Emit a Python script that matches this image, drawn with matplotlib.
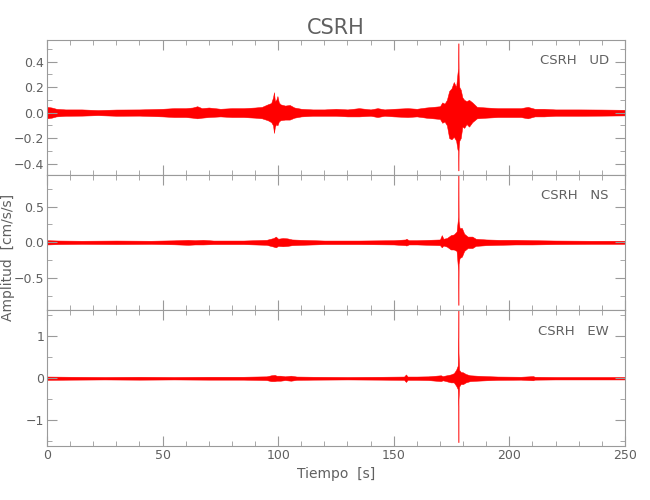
import matplotlib
matplotlib.use("Agg")
import matplotlib.pyplot as plt
from matplotlib import font_manager
from matplotlib.ticker import MultipleLocator

# fuente estrecha si existe
names = {f.name for f in font_manager.fontManager.ttflist}
fam = "Liberation Sans Narrow" if "Liberation Sans Narrow" in names else "DejaVu Sans"
plt.rcParams["font.family"] = [fam, "DejaVu Sans"]

station = "CSRH"
components = ["UD", "NS", "EW"]

t_ud = [0, 2, 4, 8, 15, 22, 30, 40, 50, 55, 60, 63, 65, 67, 70, 75, 80, 85, 90, 93,
        95.5, 97, 97.8, 98.2, 98.6, 99.2, 99.7, 100.3, 101, 103, 105, 107, 110, 115, 120,
        125, 130, 135, 140, 143, 146, 150, 156, 160, 164, 167, 170, 171, 172, 173,
        174, 175, 176, 177, 177.6, 177.9, 178.0, 178.1, 178.4, 179, 179.7, 180.5, 181.5,
        182.6, 184, 186, 190, 195, 200, 205, 208, 211, 215, 220, 230, 240, 250]
up_ud = [0.045, 0.04, 0.03, 0.025, 0.025, 0.02, 0.024, 0.025, 0.03, 0.035, 0.035, 0.04, 0.05, 0.035, 0.04, 0.03, 0.035, 0.035, 0.04, 0.045,
         0.065, 0.075, 0.12, 0.16, 0.09, 0.1, 0.13, 0.08, 0.065, 0.055, 0.06, 0.04, 0.03, 0.025, 0.025,
         0.03, 0.025, 0.035, 0.025, 0.035, 0.025, 0.03, 0.035, 0.03, 0.04, 0.045, 0.05, 0.08, 0.07, 0.1,
         0.17, 0.19, 0.24, 0.2, 0.31, 0.35, 0.545, 0.3, 0.2, 0.18, 0.12, 0.1, 0.09,
         0.1, 0.08, 0.045, 0.04, 0.035, 0.035, 0.035, 0.045, 0.03, 0.03, 0.025, 0.025, 0.024, 0.022]
lo_ud = [-0.045, -0.04, -0.03, -0.025, -0.024, -0.02, -0.025, -0.024, -0.03, -0.035, -0.035, -0.04, -0.045, -0.04, -0.035, -0.03, -0.035, -0.035, -0.04, -0.045,
         -0.06, -0.075, -0.1, -0.16, -0.11, -0.09, -0.1, -0.07, -0.06, -0.055, -0.055, -0.04, -0.03, -0.025, -0.025,
         -0.025, -0.03, -0.03, -0.025, -0.035, -0.025, -0.03, -0.035, -0.03, -0.04, -0.045, -0.05, -0.08, -0.07, -0.1,
         -0.2, -0.21, -0.19, -0.22, -0.29, -0.3, -0.455, -0.28, -0.22, -0.2, -0.11, -0.12, -0.09,
         -0.11, -0.075, -0.045, -0.04, -0.035, -0.035, -0.035, -0.045, -0.03, -0.03, -0.025, -0.025, -0.024, -0.022]

t_ns = [0, 5, 15, 30, 45, 55, 61, 64, 67.5, 72, 85, 95, 98, 99, 100, 102, 104, 106, 110, 120,
        135, 150, 155, 155.5, 156.5, 160, 165, 170, 170.8, 171.5, 173, 174.7, 176, 177.2, 177.9,
        178.0, 178.1, 178.5, 179.5, 180.5, 182, 184, 185.5, 190, 195.6, 202.8, 210, 220, 235, 250]
up_ns = [0.03, 0.025, 0.022, 0.025, 0.022, 0.028, 0.035, 0.03, 0.035, 0.025, 0.025, 0.035, 0.06, 0.08, 0.05, 0.06, 0.055, 0.04, 0.035, 0.025,
         0.025, 0.03, 0.04, 0.05, 0.03, 0.03, 0.035, 0.04, 0.1, 0.05, 0.06, 0.1, 0.11, 0.15, 0.36,
         0.97, 0.3, 0.2, 0.2, 0.12, 0.08, 0.08, 0.05, 0.04, 0.035, 0.035, 0.03, 0.025, 0.022, 0.022]
lo_ns = [-0.03, -0.025, -0.022, -0.025, -0.022, -0.028, -0.035, -0.03, -0.03, -0.025, -0.025, -0.035, -0.06, -0.07, -0.05, -0.055, -0.05, -0.04, -0.035, -0.025,
         -0.025, -0.03, -0.04, -0.045, -0.03, -0.03, -0.035, -0.04, -0.07, -0.045, -0.06, -0.1, -0.1, -0.12, -0.4,
         -0.875, -0.3, -0.22, -0.2, -0.12, -0.08, -0.08, -0.05, -0.04, -0.035, -0.03, -0.03, -0.025, -0.022, -0.022]

t_ew = [0, 10, 25, 40, 55, 70, 85, 95, 97, 98.5, 99.3, 101, 103, 105.5, 108, 115, 130, 145, 154.5, 155.3,
        156, 160, 165, 170.4, 171.2, 172, 174.7, 176, 177, 177.7, 177.95, 178.0, 178.05, 178.3, 179,
        180, 181.2, 183, 186, 190, 195, 205, 210.3, 211, 220, 235, 250]
up_ew = [0.04, 0.035, 0.03, 0.035, 0.03, 0.035, 0.035, 0.045, 0.07, 0.08, 0.06, 0.06, 0.045, 0.06, 0.04, 0.035, 0.03, 0.035, 0.04, 0.09,
         0.04, 0.04, 0.045, 0.07, 0.05, 0.06, 0.09, 0.12, 0.2, 0.3, 0.99, 1.62, 0.6, 0.2, 0.15,
         0.14, 0.1, 0.07, 0.06, 0.05, 0.04, 0.035, 0.05, 0.035, 0.03, 0.03, 0.03]
lo_ew = [-0.04, -0.035, -0.03, -0.035, -0.03, -0.035, -0.035, -0.045, -0.07, -0.07, -0.06, -0.06, -0.045, -0.06, -0.04, -0.035, -0.03, -0.035, -0.04, -0.09,
         -0.04, -0.04, -0.045, -0.07, -0.05, -0.06, -0.1, -0.1, -0.18, -0.26, -0.66, -1.53, -0.5, -0.2, -0.14,
         -0.14, -0.1, -0.07, -0.06, -0.05, -0.04, -0.035, -0.05, -0.035, -0.03, -0.03, -0.03]

traces = [(t_ud, up_ud, lo_ud), (t_ns, up_ns, lo_ns), (t_ew, up_ew, lo_ew)]
ylims = [(-0.49, 0.57), (-0.945, 0.94), (-1.62, 1.63)]
yticks = [[-0.4, -0.2, 0.0, 0.2, 0.4], [-0.5, 0.0, 0.5], [-1, 0, 1]]
yminor = [0.1, 0.25, 0.5]
yfmt = ["{:.1f}", "{:.1f}", "{:.0f}"]

gray = "#9a9a9a"
tcol = "#606060"

fig = plt.figure(figsize=(6.5, 5), dpi=100)
bottoms = [0.65, 0.38, 0.108]
heights = [0.27, 0.27, 0.272]
axes = []
for i in range(3):
    ax = fig.add_axes([0.0723, bottoms[i], 0.889, heights[i]])
    axes.append(ax)
    t, up, lo = traces[i]
    ax.fill_between(t, lo, up, color="red", edgecolor="red", linewidth=0.35)
    ax.set_xlim(0, 250)
    ax.set_ylim(*ylims[i])
    ax.set_yticks(yticks[i])
    ax.set_yticklabels([yfmt[i].format(v).replace("-", "\u2212") for v in yticks[i]])
    ax.yaxis.set_minor_locator(MultipleLocator(yminor[i]))
    ax.xaxis.set_major_locator(MultipleLocator(50))
    ax.xaxis.set_minor_locator(MultipleLocator(10))
    ax.tick_params(which="both", direction="in", top=True, right=True,
                   color=gray, labelcolor=tcol, labelsize=9, pad=2)
    ax.tick_params(which="major", length=7)
    ax.tick_params(which="minor", length=3.5)
    for s in ax.spines.values():
        s.set_color(gray)
        s.set_linewidth(0.8)
    if i < 2:
        ax.tick_params(labelbottom=False)
    ax.text(0.972, 0.845, station + "   " + components[i], transform=ax.transAxes,
            ha="right", va="center", fontsize=9.5, color=tcol)

axes[2].set_xlabel("Tiempo  [s]", fontsize=10, color=tcol, labelpad=4)
fig.text(0.012, 0.486, "Amplitud  [cm/s/s]", rotation=90, ha="center", va="center",
         fontsize=10, color=tcol)
fig.text(0.517, 0.945, station, ha="center", va="center", fontsize=15, color=tcol)

fig.savefig("out.png", dpi=100)
